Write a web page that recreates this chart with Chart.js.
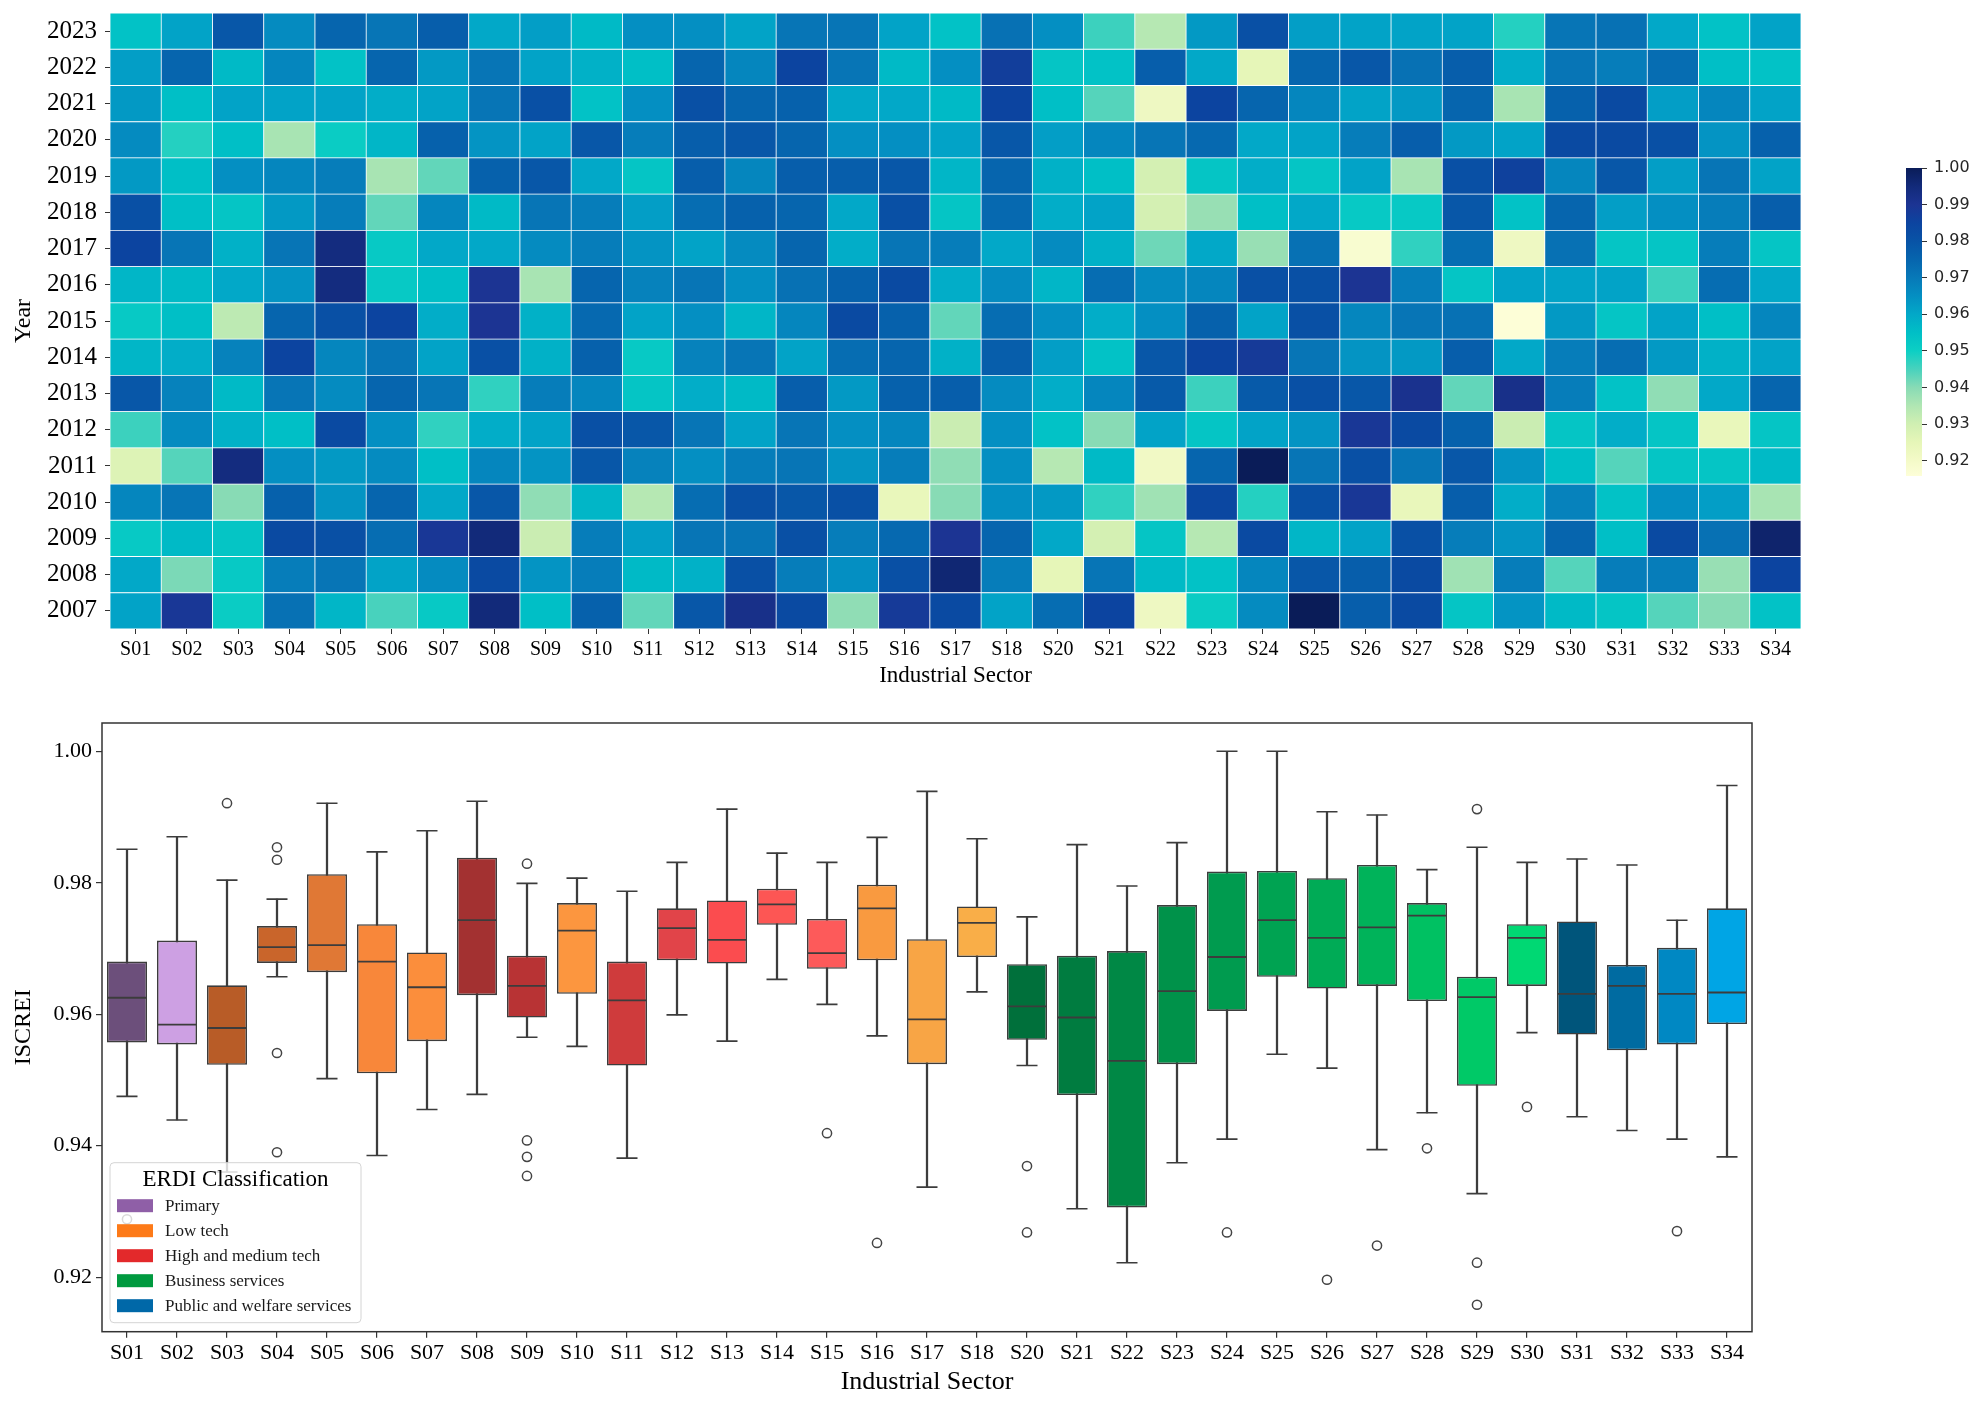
<!DOCTYPE html>
<html><head><meta charset="utf-8">
<script src="https://cdn.jsdelivr.net/npm/chart.js@4.4.1/dist/chart.umd.min.js"></script>
<style>
html,body{margin:0;padding:0;background:#fff;}
body{width:1979px;height:1406px;position:relative;overflow:hidden;}
canvas{position:absolute;}
#heat{left:0;top:0;width:1979px;height:700px;}
#cbar{left:1850px;top:140px;width:129px;height:360px;}
#box{left:0;top:700px;width:1979px;height:706px;}
</style></head><body>
<canvas id="heat" width="1979" height="700"></canvas>
<canvas id="cbar" width="129" height="360"></canvas>
<canvas id="box" width="1979" height="706"></canvas>
<script>
// ---------- categories ----------
const sectors = ['S01','S02','S03','S04','S05','S06','S07','S08','S09','S10','S11','S12','S13','S14','S15','S16','S17','S18',
  'S20','S21','S22','S23','S24','S25','S26','S27','S28','S29','S30','S31','S32','S33','S34'];
const years = [2007,2008,2009,2010,2011,2012,2013,2014,2015,2016,2017,2018,2019,2020,2021,2022,2023];

// ---------- heatmap values (one array per year, S01..S34 without S19) ----------
const heat2023 = [.954,.961,.979,.966,.975,.971,.977,.960,.962,.956,.965,.965,.961,.971,.971,.961,.954,.972,.965,.946,.934,.963,.981,.962,.961,.961,.961,.948,.971,.972,.960,.954,.961];
const heat2022 = [.962,.975,.956,.967,.954,.975,.963,.971,.961,.958,.955,.975,.967,.985,.971,.956,.965,.987,.953,.954,.977,.960,.925,.975,.979,.972,.977,.959,.971,.969,.973,.955,.954];
const heat2021 = [.963,.955,.961,.961,.961,.959,.961,.971,.981,.954,.965,.981,.975,.976,.960,.960,.956,.985,.955,.944,.922,.985,.975,.967,.961,.963,.975,.936,.976,.983,.962,.967,.961];
const heat2020 = [.966,.948,.955,.936,.951,.957,.976,.964,.961,.979,.969,.977,.979,.975,.965,.965,.961,.979,.962,.967,.971,.974,.960,.961,.969,.977,.963,.961,.983,.983,.981,.964,.976];
const heat2019 = [.963,.955,.965,.967,.969,.936,.943,.976,.979,.960,.953,.977,.967,.977,.977,.979,.957,.975,.958,.955,.929,.953,.959,.953,.961,.936,.981,.986,.967,.979,.962,.971,.961];
const heat2018 = [.981,.955,.953,.963,.969,.943,.967,.956,.971,.969,.962,.973,.976,.975,.960,.981,.953,.974,.959,.961,.929,.938,.955,.960,.952,.952,.979,.954,.975,.962,.965,.969,.977];
const heat2017 = [.985,.971,.958,.971,.994,.952,.960,.960,.966,.969,.964,.961,.966,.975,.959,.971,.969,.960,.966,.958,.942,.960,.938,.972,.918,.947,.973,.922,.972,.953,.953,.969,.953];
const heat2016 = [.957,.956,.960,.964,.994,.952,.955,.990,.936,.975,.968,.971,.965,.972,.976,.983,.959,.966,.957,.973,.966,.967,.981,.981,.990,.969,.953,.961,.961,.961,.946,.973,.960];
const heat2015 = [.952,.955,.933,.975,.981,.985,.959,.990,.958,.974,.961,.965,.957,.967,.983,.976,.943,.973,.965,.959,.965,.976,.961,.981,.967,.971,.972,.916,.963,.953,.961,.955,.967];
const heat2014 = [.957,.959,.968,.985,.967,.971,.961,.981,.958,.976,.952,.968,.971,.961,.973,.975,.958,.977,.962,.954,.979,.985,.988,.971,.964,.963,.977,.960,.969,.973,.963,.958,.961];
const heat2013 = [.979,.968,.956,.971,.966,.975,.971,.947,.969,.967,.953,.959,.956,.977,.963,.976,.977,.966,.959,.967,.978,.946,.978,.981,.979,.991,.943,.992,.969,.954,.939,.960,.975];
const heat2012 = [.946,.966,.958,.955,.983,.965,.947,.959,.961,.981,.979,.971,.961,.971,.965,.967,.931,.965,.954,.940,.961,.953,.961,.964,.989,.983,.976,.931,.953,.959,.953,.924,.953];
const heat2011 = [.927,.944,.994,.965,.963,.966,.955,.967,.964,.979,.968,.965,.969,.971,.964,.969,.939,.965,.934,.956,.921,.975,1.000,.971,.981,.971,.979,.964,.955,.944,.953,.953,.956];
const heat2010 = [.967,.971,.940,.976,.964,.975,.960,.979,.939,.957,.934,.973,.981,.979,.981,.924,.940,.965,.963,.947,.937,.984,.948,.981,.989,.924,.977,.959,.968,.954,.965,.962,.936];
const heat2009 = [.952,.956,.953,.983,.981,.973,.989,.995,.931,.969,.962,.971,.971,.981,.969,.974,.990,.975,.960,.929,.953,.934,.983,.957,.961,.981,.969,.964,.975,.955,.983,.972,.997];
const heat2008 = [.960,.941,.952,.969,.971,.961,.966,.983,.964,.969,.956,.958,.981,.969,.965,.981,.996,.969,.925,.971,.956,.954,.967,.979,.977,.983,.937,.969,.944,.969,.969,.938,.985];
const heat2007 = [.961,.989,.951,.972,.957,.945,.952,.995,.955,.976,.943,.979,.992,.983,.939,.988,.983,.961,.973,.985,.922,.951,.966,1.000,.977,.983,.953,.964,.956,.953,.944,.940,.954];
const heatRows = [heat2007,heat2008,heat2009,heat2010,heat2011,heat2012,heat2013,heat2014,heat2015,heat2016,heat2017,heat2018,heat2019,heat2020,heat2021,heat2022,heat2023];

// ---------- colour bar ----------
const cbarMin = 0.9158, cbarMax = 1.00;
const cbarTicks = [0.92,0.93,0.94,0.95,0.96,0.97,0.98,0.99,1.00];

// ---------- boxplot statistics ----------
const whiskerLow  = [.9475,.9439,.9360,.9657,.9502,.9385,.9455,.9478,.9565,.9551,.9381,.9599,.9559,.9653,.9615,.9567,.9337,.9634,.9522,.9304,.9222,.9374,.9410,.9539,.9518,.9394,.9450,.9327,.9572,.9444,.9423,.9410,.9383];
const q1          = [.9557,.9554,.9523,.9678,.9664,.9510,.9559,.9629,.9595,.9631,.9522,.9682,.9677,.9736,.9669,.9682,.9524,.9687,.9561,.9477,.9306,.9524,.9605,.9657,.9639,.9643,.9620,.9491,.9643,.9569,.9545,.9554,.9585];
const median      = [.9625,.9584,.9579,.9702,.9705,.9680,.9641,.9743,.9643,.9727,.9621,.9731,.9713,.9767,.9693,.9761,.9592,.9739,.9612,.9595,.9529,.9635,.9687,.9743,.9716,.9732,.9750,.9626,.9716,.9631,.9643,.9631,.9633];
const q3          = [.9680,.9712,.9644,.9734,.9813,.9737,.9694,.9838,.9689,.9769,.9680,.9761,.9773,.9791,.9745,.9797,.9714,.9764,.9676,.9689,.9696,.9766,.9817,.9818,.9807,.9827,.9769,.9657,.9737,.9741,.9675,.9701,.9761];
const whiskerHigh = [.9851,.9870,.9804,.9775,.9921,.9847,.9879,.9924,.9799,.9807,.9787,.9831,.9912,.9845,.9831,.9869,.9939,.9867,.9748,.9858,.9795,.9861,1.0000,1.0000,.9908,.9903,.9820,.9854,.9831,.9836,.9827,.9743,.9948];
const outlierSectors = ['S01','S03','S04','S04','S04','S04','S09','S09','S09','S09','S15','S16','S20','S20','S24','S26','S27','S28','S29','S29','S29','S30','S33'];
const outlierValues  = [.9288,.9921,.9854,.9835,.9541,.9390,.9829,.9408,.9383,.9354,.9419,.9252,.9369,.9268,.9268,.9196,.9248,.9396,.9912,.9222,.9158,.9459,.9270];
const boxColors = ['#6c4f7b','#cda0e3','#b85c27','#c9652b','#e07835','#f8873a','#fb8e3c','#a33131','#b83334','#fc963f','#cf3b3c','#e14449','#fb4c4f','#fd5654','#fd5a5a','#f99a40','#f8a545','#f9ae48',
  '#00703b','#007c40','#008845','#00924a','#009b4f','#00a352','#00ab56','#00b35a','#00c162','#00c967','#00d873','#00557b','#006ba1','#0088c3','#00a5e5'];
const boxYTicks = [0.92,0.94,0.96,0.98,1.00];

// ---------- legend ----------
const legendTitle = 'ERDI Classification';
const legendLabels = ['Primary','Low tech','High and medium tech','Business services','Public and welfare services'];
const legendColors = ['#8f5fa7','#fd7a18','#e3292b','#009a3f','#0068a8'];

// ---------- colour map (saturated YlGnBu) ----------
const cmapStops = [[0.9158,'#fdfed8'],[0.92,'#f4fac8'],[0.925,'#e6f6b8'],[0.93,'#d0efb2'],[0.935,'#b0e6b3'],[0.94,'#88dbb5'],
  [0.945,'#48d2bd'],[0.95,'#0ccfc4'],[0.955,'#00bfc6'],[0.96,'#02a8c8'],[0.965,'#048fc2'],[0.97,'#0779b8'],[0.975,'#0665ae'],
  [0.98,'#0853a6'],[0.985,'#0c44a0'],[0.99,'#1c3493'],[0.995,'#122a7a'],[1.0,'#0a1c58']];
function hex2rgb(h){return [parseInt(h.substr(1,2),16),parseInt(h.substr(3,2),16),parseInt(h.substr(5,2),16)];}
function cmap(v){
  if(v<=cmapStops[0][0]) return cmapStops[0][1];
  for(let i=1;i<cmapStops.length;i++){
    if(v<=cmapStops[i][0]){
      const [v0,c0]=cmapStops[i-1],[v1,c1]=cmapStops[i];
      const t=(v-v0)/(v1-v0), a=hex2rgb(c0), b=hex2rgb(c1);
      return 'rgb('+a.map((x,k)=>Math.round(x+(b[k]-x)*t)).join(',')+')';
    }
  }
  return cmapStops[cmapStops.length-1][1];
}

Chart.defaults.font.family = '"Liberation Serif", "Times New Roman", serif';
Chart.defaults.color = '#000';
const serif = '"Liberation Serif", "Times New Roman", serif';
const noVPad = s => { s.paddingTop = 0; s.paddingBottom = 0; };

// ---------- heatmap ----------
new Chart(document.getElementById('heat'), {
  type: 'bar',
  data: {
    labels: sectors,
    datasets: heatRows.map((row, r) => ({
      label: String(years[r]),
      data: row.map(() => [r, r + 1]),
      backgroundColor: row.map(v => cmap(v)),
      borderColor: '#ffffff',
      borderWidth: 0.75,
      borderSkipped: false,
      grouped: false,
      categoryPercentage: 1,
      barPercentage: 1
    }))
  },
  options: {
    responsive: false, animation: false, devicePixelRatio: 1,
    layout: { padding: { left: 0, top: 13, right: 178, bottom: 0 } },
    plugins: { legend: { display: false }, tooltip: { enabled: false } },
    scales: {
      x: {
        offset: true,
        grid: { drawOnChartArea: false, offset: false, drawTicks: true, tickLength: 5, color: '#333', lineWidth: 1 },
        border: { display: false },
        ticks: { font: { family: serif, size: 20 }, color: '#000', padding: 4, autoSkip: false, maxRotation: 0 },
        title: { display: true, text: 'Industrial Sector', font: { family: serif, size: 23 }, color: '#000', padding: { top: 0, bottom: 10 } },
        afterFit: s => { s.height = 71; }
      },
      y: {
        min: 0, max: 17,
        afterBuildTicks: s => { s.ticks = years.map((y, i) => ({ value: i + 0.5 })); },
        ticks: { callback: (v, i) => String(years[i]), font: { family: serif, size: 25 }, color: '#000', padding: 8, autoSkip: false },
        grid: { drawOnChartArea: false, drawTicks: true, tickLength: 5, color: '#333', lineWidth: 1 },
        border: { display: false },
        title: { display: true, text: 'Year', font: { family: serif, size: 24 }, color: '#000', padding: { top: 9, bottom: 0 } },
        afterFit: s => { s.width = 110; noVPad(s); }
      }
    }
  }
});

// ---------- colour bar ----------
new Chart(document.getElementById('cbar'), {
  type: 'bar',
  data: {
    labels: [''],
    datasets: [{
      data: [[cbarMin, cbarMax]],
      backgroundColor: (ctx) => {
        const chart = ctx.chart, area = chart.chartArea;
        if (!area) return '#ffffff';
        const ys = chart.scales.y;
        const g = chart.ctx.createLinearGradient(0, ys.getPixelForValue(cbarMin), 0, ys.getPixelForValue(cbarMax));
        cmapStops.forEach(([v, c]) => g.addColorStop(Math.max(0, Math.min(1, (v - cbarMin) / (cbarMax - cbarMin))), c));
        return g;
      },
      borderWidth: 0,
      categoryPercentage: 1, barPercentage: 1
    }]
  },
  options: {
    responsive: false, animation: false, devicePixelRatio: 1,
    layout: { padding: { left: 56, top: 28, right: 0, bottom: 24 } },
    plugins: { legend: { display: false }, tooltip: { enabled: false } },
    scales: {
      x: { display: false },
      y: {
        position: 'right', min: cbarMin, max: cbarMax,
        afterBuildTicks: s => { s.ticks = cbarTicks.map(v => ({ value: v })); },
        ticks: { callback: v => v.toFixed(2), font: { family: '"DejaVu Sans", sans-serif', size: 16 }, color: '#262626', padding: 7, autoSkip: false },
        grid: { drawOnChartArea: false, drawTicks: true, tickLength: 5, color: '#333', lineWidth: 1 },
        border: { display: false },
        afterFit: s => { s.width = 57; noVPad(s); }
      }
    }
  }
});

// ---------- boxplot ----------
const boxDecor = {
  id: 'boxDecor',
  afterDraw(chart) {
    const { ctx, chartArea: a } = chart;
    ctx.save();
    ctx.strokeStyle = '#333'; ctx.lineWidth = 1.5;
    ctx.strokeRect(a.left, a.top, a.right - a.left, a.bottom - a.top);
    const w = 251, h = 160, x = a.left + 8, y = a.bottom - 9 - h;
    ctx.beginPath();
    if (ctx.roundRect) ctx.roundRect(x, y, w, h, 4); else ctx.rect(x, y, w, h);
    ctx.fillStyle = 'rgba(255,255,255,0.8)'; ctx.fill();
    ctx.strokeStyle = '#d4d4d4'; ctx.lineWidth = 1; ctx.stroke();
    ctx.fillStyle = '#000'; ctx.textAlign = 'center'; ctx.textBaseline = 'middle';
    ctx.font = '23px ' + serif;
    ctx.fillText(legendTitle, x + w / 2, y + 17);
    ctx.font = '17px ' + serif; ctx.textAlign = 'left';
    legendLabels.forEach((lab, i) => {
      const cy = y + 43 + i * 25;
      ctx.fillStyle = legendColors[i]; ctx.fillRect(x + 7, cy - 6.5, 36, 13);
      ctx.fillStyle = '#1a1a1a'; ctx.fillText(lab, x + 55, cy + 1);
    });
    ctx.restore();
  }
};

const lineGrey = '#3c3c3c';
new Chart(document.getElementById('box'), {
  type: 'bar',
  data: {
    labels: sectors,
    datasets: [
      { type: 'bar', label: 'whisker', data: sectors.map((s, i) => [whiskerLow[i], whiskerHigh[i]]),
        backgroundColor: lineGrey, borderWidth: 0, barThickness: 1.6, grouped: false, order: 5 },
      { type: 'bar', label: 'box', data: sectors.map((s, i) => [q1[i], q3[i]]),
        backgroundColor: boxColors, borderColor: lineGrey, borderWidth: 1.6, borderSkipped: false,
        grouped: false, categoryPercentage: 1, barPercentage: 0.8, order: 4 },
      { type: 'line', label: 'median', data: median, showLine: false, pointStyle: 'line', pointRadius: 20,
        pointHoverRadius: 20, pointBorderColor: lineGrey, pointBorderWidth: 1.8, order: 3 },
      { type: 'line', label: 'capHigh', data: whiskerHigh, showLine: false, pointStyle: 'line', pointRadius: 10.5,
        pointHoverRadius: 10.5, pointBorderColor: lineGrey, pointBorderWidth: 1.6, order: 2 },
      { type: 'line', label: 'capLow', data: whiskerLow, showLine: false, pointStyle: 'line', pointRadius: 10.5,
        pointHoverRadius: 10.5, pointBorderColor: lineGrey, pointBorderWidth: 1.6, order: 2 },
      { type: 'line', label: 'outliers', data: outlierSectors.map((s, i) => ({ x: s, y: outlierValues[i] })),
        showLine: false, pointStyle: 'circle', pointRadius: 4.6, pointHoverRadius: 4.6,
        pointBackgroundColor: 'rgba(255,255,255,0)', pointBorderColor: '#444', pointBorderWidth: 1.5, order: 1 }
    ]
  },
  options: {
    responsive: false, animation: false, devicePixelRatio: 1,
    layout: { padding: { left: 0, top: 23, right: 227, bottom: 0 } },
    plugins: { legend: { display: false }, tooltip: { enabled: false } },
    scales: {
      x: {
        type: 'category', offset: true,
        grid: { drawOnChartArea: false, offset: false, drawTicks: true, tickLength: 6, color: '#333', lineWidth: 1.2 },
        border: { display: false },
        ticks: { font: { family: serif, size: 22 }, color: '#000', padding: 2, autoSkip: false, maxRotation: 0 },
        title: { display: true, text: 'Industrial Sector', font: { family: serif, size: 26 }, color: '#000', padding: { top: 0, bottom: 8 } },
        afterFit: s => { s.height = 74.3; }
      },
      y: {
        min: 0.9117, max: 1.0043,
        afterBuildTicks: s => { s.ticks = boxYTicks.map(v => ({ value: v })); },
        ticks: { callback: v => v.toFixed(2), font: { family: serif, size: 22 }, color: '#000', padding: 4, autoSkip: false },
        grid: { drawOnChartArea: false, drawTicks: true, tickLength: 6, color: '#333', lineWidth: 1.2 },
        border: { display: false },
        title: { display: true, text: 'ISCREI', font: { family: serif, size: 24 }, color: '#000', padding: { top: 9, bottom: 0 } },
        afterFit: s => { s.width = 102; noVPad(s); }
      }
    }
  },
  plugins: [boxDecor]
});
</script>
</body></html>
